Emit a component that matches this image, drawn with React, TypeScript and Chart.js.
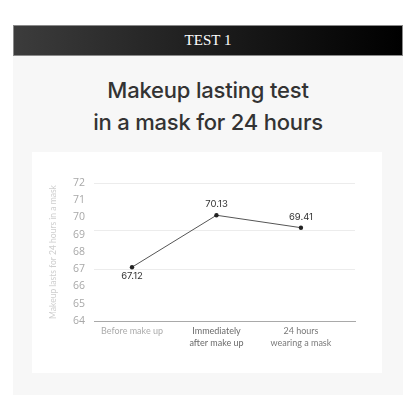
import React, { useEffect, useRef } from 'react';
import { Chart, registerables } from 'chart.js';
Chart.register(...registerables);

const categories: string[][] = [['Before make up'], ['Immediately', 'after make up'], ['24 hours', 'wearing a mask']];
const categoryPositions = [0, 1, 2];
const values = [67.12, 70.13, 69.41];
const valueLabels = ['67.12', '70.13', '69.41'];
const labelPlacement = ['below', 'above', 'above'];
const yTicks = [64, 65, 66, 67, 68, 69, 70, 71, 72];
const gridValues = [72, 69.25, 67];
const xRange = [-0.45, 2.64];
const yRange = [64, 72];
const xTickColors = ['#ababab', '#6a6a6a', '#7a7a7a'];

const dataLabelPlugin = {
  id: 'dataLabels',
  afterDatasetsDraw(chart: any) {
    const ctx = chart.ctx;
    const meta = chart.getDatasetMeta(0);
    ctx.save();
    ctx.font = '9.5px Inter';
    ctx.fillStyle = '#333';
    ctx.textAlign = 'center';
    ctx.textBaseline = 'middle';
    meta.data.forEach((pt: any, i: number) => {
      const dy = labelPlacement[i] === 'below' ? 9 : -11;
      ctx.fillText(valueLabels[i], pt.x, pt.y + dy);
    });
    ctx.restore();
  },
};

function LineChart() {
  const ref = useRef<HTMLCanvasElement>(null);
  useEffect(() => {
    if (!ref.current) return;
    const chart = new Chart(ref.current, {
      type: 'line',
      data: {
        datasets: [
          {
            data: values.map((v, i) => ({ x: categoryPositions[i], y: v })),
            borderColor: '#555',
            borderWidth: 1,
            pointRadius: 2.2,
            pointBackgroundColor: '#222',
            pointBorderWidth: 0,
            tension: 0,
          },
        ],
      },
      options: {
        animation: false,
        responsive: true,
        maintainAspectRatio: false,
        layout: { padding: { top: 31, right: 27, left: 0, bottom: 0 } },
        plugins: { legend: { display: false }, tooltip: { enabled: false } },
        scales: {
          x: {
            type: 'linear',
            min: xRange[0],
            max: xRange[1],
            afterBuildTicks: (axis: any) => {
              axis.ticks = categoryPositions.map((v) => ({ value: v }));
            },
            ticks: {
              callback: (_v: any, i: number) => categories[i],
              color: (ctx: any) => xTickColors[ctx.index] || '#888',
              font: { family: 'Lato', size: 9, lineHeight: 1.35 },
              padding: 4,
              autoSkip: false,
              maxRotation: 0,
            },
            grid: { color: 'rgba(0,0,0,0)', drawTicks: false },
            border: { display: true, color: '#a9a9a9', width: 1 },
            afterFit: (axis: any) => {
              axis.height = 52;
            },
          },
          y: {
            type: 'linear',
            min: yRange[0],
            max: yRange[1],
            afterBuildTicks: (axis: any) => {
              const all = Array.from(new Set([...yTicks, ...gridValues])).sort((a, b) => a - b);
              axis.ticks = all.map((v) => ({ value: v }));
            },
            ticks: {
              callback: (v: any) => (yTicks.includes(v) ? String(v) : ''),
              color: '#a8a8a8',
              font: { family: 'Open Sans', size: 10.5 },
              padding: 9,
              autoSkip: false,
            },
            grid: {
              color: (ctx: any) => (ctx.tick && gridValues.includes(ctx.tick.value) ? '#ececec' : 'rgba(0,0,0,0)'),
              drawTicks: false,
              lineWidth: 1,
            },
            border: { display: false },
            title: {
              display: true,
              text: 'Makeup lasts for 24 hours in a mask',
              color: '#cfcfcf',
              font: { family: 'Lato', size: 8.5 },
              padding: { top: 16, bottom: 0 },
            },
            afterFit: (axis: any) => {
              axis.width = 62;
            },
          },
        },
      },
      plugins: [dataLabelPlugin],
    } as any);
    return () => chart.destroy();
  }, []);
  return <canvas ref={ref} />;
}

export default function App() {
  return (
    <div style={{ position: 'fixed', left: 0, top: 0, width: 416, height: 416, background: '#fff', overflow: 'hidden' }}>
      <div
        style={{
          position: 'absolute',
          left: 13,
          top: 25,
          width: 390,
          height: 31,
          boxSizing: 'border-box',
          border: '1px solid #8a8a8a',
          background: 'linear-gradient(to right, #3c3c3c 0%, #1a1a1a 55%, #000 100%)',
          color: '#fff',
          fontFamily: '"Liberation Serif", serif',
          fontSize: 15,
          lineHeight: '29px',
          textAlign: 'center',
        }}
      >
        TEST 1
      </div>
      <div style={{ position: 'absolute', left: 13, top: 56, width: 390, height: 339, background: '#f7f7f7' }} />
      <div
        style={{
          position: 'absolute',
          left: 13,
          top: 74,
          width: 390,
          textAlign: 'center',
          fontFamily: 'Inter, sans-serif',
          fontWeight: 500,
          fontSize: 22,
          lineHeight: '32px',
          color: '#333',
          letterSpacing: '-0.2px',
        }}
      >
        Makeup lasting test
        <br />
        in a mask for 24 hours
      </div>
      <div style={{ position: 'absolute', left: 32, top: 152, width: 350, height: 221, background: '#fff' }}>
        <LineChart />
      </div>
    </div>
  );
}
